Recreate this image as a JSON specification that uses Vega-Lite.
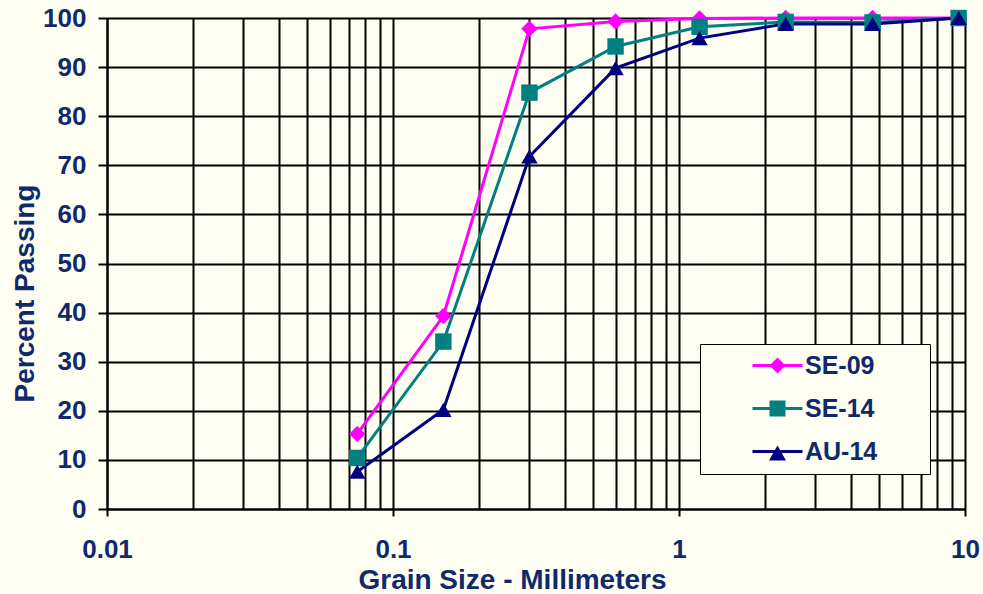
{
  "$schema": "https://vega.github.io/schema/vega-lite/v6.json",
  "width": 858,
  "height": 491,
  "autosize": {"type": "none"},
  "padding": {"left": 107, "top": 18, "right": 18, "bottom": 85},
  "background": "#FEFEF2",
  "config": {
    "view": {"stroke": null, "fill": "#FEFEF2"},
    "font": "Liberation Sans"
  },
  "data": {
    "values": [
      {"series": "SE-09", "size": 0.075, "passing": 15.3},
      {"series": "SE-09", "size": 0.15, "passing": 39.3},
      {"series": "SE-09", "size": 0.3, "passing": 97.8},
      {"series": "SE-09", "size": 0.6, "passing": 99.3},
      {"series": "SE-09", "size": 1.18, "passing": 99.9},
      {"series": "SE-09", "size": 2.36, "passing": 100},
      {"series": "SE-09", "size": 4.75, "passing": 100},
      {"series": "SE-09", "size": 9.5, "passing": 100},
      {"series": "SE-14", "size": 0.075, "passing": 10.4},
      {"series": "SE-14", "size": 0.15, "passing": 34.1},
      {"series": "SE-14", "size": 0.3, "passing": 84.8},
      {"series": "SE-14", "size": 0.6, "passing": 94.2},
      {"series": "SE-14", "size": 1.18, "passing": 98.2},
      {"series": "SE-14", "size": 2.36, "passing": 99.2},
      {"series": "SE-14", "size": 4.75, "passing": 99.1},
      {"series": "SE-14", "size": 9.5, "passing": 100},
      {"series": "AU-14", "size": 0.075, "passing": 7.6},
      {"series": "AU-14", "size": 0.15, "passing": 20.2},
      {"series": "AU-14", "size": 0.3, "passing": 71.8},
      {"series": "AU-14", "size": 0.6, "passing": 89.8},
      {"series": "AU-14", "size": 1.18, "passing": 95.9},
      {"series": "AU-14", "size": 2.36, "passing": 98.8},
      {"series": "AU-14", "size": 4.75, "passing": 98.8},
      {"series": "AU-14", "size": 9.5, "passing": 100}
    ]
  },
  "layer": [
    {
      "mark": {"type": "line", "strokeWidth": 3},
      "encoding": {
        "x": {
          "field": "size",
          "type": "quantitative",
          "scale": {"type": "log", "domain": [0.01, 10], "nice": false},
          "axis": {
            "values": [0.01, 0.02, 0.03, 0.04, 0.05, 0.06, 0.07, 0.08, 0.09, 0.1, 0.2, 0.3, 0.4, 0.5, 0.6, 0.7, 0.8, 0.9, 1, 2, 3, 4, 5, 6, 7, 8, 9, 10],
            "grid": true,
            "gridColor": "#000000",
            "gridWidth": 2,
            "gridOpacity": 1,
            "domainColor": "#000000",
            "domainWidth": 2,
            "tickColor": "#000000",
            "tickWidth": 2,
            "tickSize": 7,
            "tickOpacity": {"condition": {"test": "indexof([0.01, 0.1, 1, 10], datum.value) >= 0", "value": 1}, "value": 0},
            "labelExpr": "indexof([0.01, 0.1, 1, 10], datum.value) >= 0 ? toString(datum.value) : ''",
            "labelOverlap": false,
            "labelFlush": false,
            "labelFont": "Liberation Sans",
            "labelFontSize": 26,
            "labelFontWeight": "bold",
            "labelColor": "#0F2A6B",
            "labelPadding": 20,
            "title": "Grain Size - Millimeters",
            "titleFont": "Liberation Sans",
            "titleFontSize": 28,
            "titleFontWeight": "bold",
            "titleColor": "#0F2A6B",
            "titleX": 405,
            "titleY": 79,
            "titleAlign": "center",
            "titleBaseline": "alphabetic"
          }
        },
        "y": {
          "field": "passing",
          "type": "quantitative",
          "scale": {"domain": [0, 100], "nice": false},
          "axis": {
            "values": [0, 10, 20, 30, 40, 50, 60, 70, 80, 90, 100],
            "grid": true,
            "gridColor": "#000000",
            "gridWidth": 2,
            "gridOpacity": 1,
            "domainColor": "#000000",
            "domainWidth": 2,
            "tickColor": "#000000",
            "tickWidth": 2,
            "tickSize": 9,
            "labelFont": "Liberation Sans",
            "labelFontSize": 26,
            "labelFontWeight": "bold",
            "labelColor": "#0F2A6B",
            "labelPadding": 12,
            "labelFlush": false,
            "title": "Percent Passing",
            "titleFont": "Liberation Sans",
            "titleFontSize": 28,
            "titleFontWeight": "bold",
            "titleColor": "#0F2A6B",
            "titleAngle": -90,
            "titleX": -74,
            "titleY": 275,
            "titleAlign": "center",
            "titleBaseline": "alphabetic"
          }
        },
        "color": {
          "field": "series",
          "type": "nominal",
          "scale": {"domain": ["SE-09", "SE-14", "AU-14"], "range": ["#FF00FF", "#008080", "#000080"]},
          "legend": null
        }
      }
    },
    {
      "mark": {"type": "point", "filled": true, "opacity": 1, "size": 270},
      "encoding": {
        "x": {"field": "size", "type": "quantitative"},
        "y": {"field": "passing", "type": "quantitative"},
        "color": {
          "field": "series",
          "type": "nominal",
          "scale": {"domain": ["SE-09", "SE-14", "AU-14"], "range": ["#FF00FF", "#008080", "#000080"]},
          "legend": null
        },
        "shape": {
          "field": "series",
          "type": "nominal",
          "scale": {"domain": ["SE-09", "SE-14", "AU-14"], "range": ["diamond", "square", "triangle-up"]},
          "legend": null
        }
      }
    },
    {
      "transform": [{"filter": "false"}],
      "mark": {"type": "point", "filled": true, "opacity": 1, "size": 400},
      "encoding": {
        "color": {
          "field": "series",
          "type": "nominal",
          "scale": {"domain": ["SE-09", "SE-14", "AU-14"], "range": ["#FF00FF", "#008080", "#000080"]},
          "legend": {
            "title": null,
            "orient": "none",
            "legendX": 593,
            "legendY": 326,
            "padding": 9,
            "fillColor": "#FEFEF2",
            "strokeColor": "#000000",
            "labelFont": "Liberation Sans",
            "labelFontSize": 25,
            "labelFontWeight": "bold",
            "labelColor": "#0F2A6B",
            "symbolSize": 400,
            "symbolStrokeWidth": 0,
            "symbolOffset": 56,
            "labelOffset": 15,
            "rowPadding": 17,
            "encode": {"legend": {"update": {"strokeWidth": {"value": 2}}}}
          }
        },
        "shape": {
          "field": "series",
          "type": "nominal",
          "scale": {
            "domain": ["SE-09", "SE-14", "AU-14"],
            "range": [
              "M-2.5,-0.15H2.5V0.15H-2.5Z M0,-0.8L0.8,0L0,0.8L-0.8,0Z M14.3,0",
              "M-2.5,-0.15H2.5V0.15H-2.5Z M-0.8,-0.8H0.8V0.8H-0.8Z M14.3,0",
              "M-2.5,-0.15H2.5V0.15H-2.5Z M0,-0.6L0.85,0.9L-0.85,0.9Z M14.3,0"
            ]
          },
          "legend": {
            "title": null,
            "orient": "none",
            "legendX": 593,
            "legendY": 326,
            "padding": 9,
            "fillColor": "#FEFEF2",
            "strokeColor": "#000000",
            "labelFont": "Liberation Sans",
            "labelFontSize": 25,
            "labelFontWeight": "bold",
            "labelColor": "#0F2A6B",
            "symbolSize": 400,
            "symbolStrokeWidth": 0,
            "symbolOffset": 56,
            "labelOffset": 15,
            "rowPadding": 17,
            "encode": {"legend": {"update": {"strokeWidth": {"value": 2}}}}
          }
        }
      }
    }
  ],
  "resolve": {"scale": {"shape": "independent", "color": "independent"}}
}
